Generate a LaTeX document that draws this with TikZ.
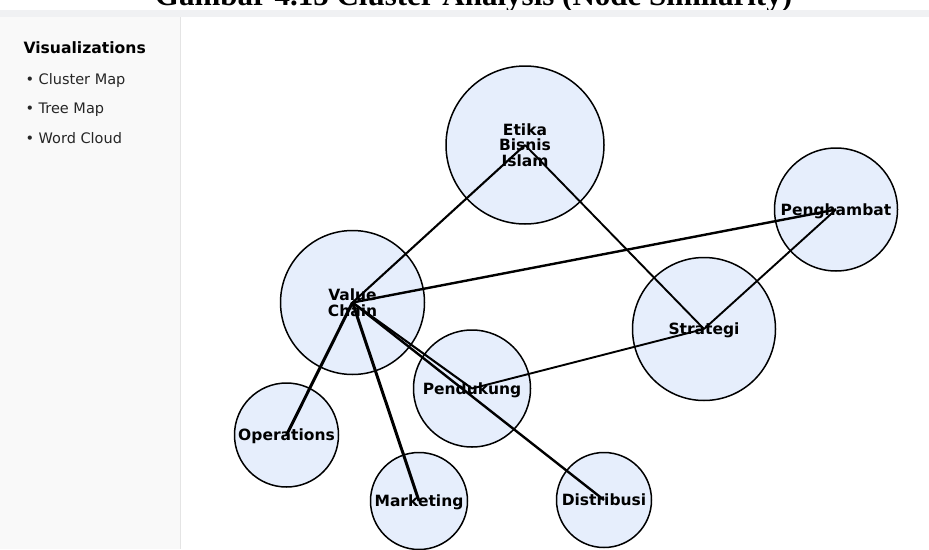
\documentclass[tikz,border=0pt]{standalone}
\usepackage{fontspec}
\setmainfont{DejaVu Sans}
\newfontfamily\judulfont{Liberation Serif}
\definecolor{isisimpul}{RGB}{230,238,252}
\definecolor{pita}{RGB}{240,241,243}
\definecolor{panel}{RGB}{249,249,249}
\definecolor{tepipanel}{RGB}{228,228,228}
\begin{document}
\begin{tikzpicture}[x=1pt, y=-1pt,
    simpul/.style={circle, draw, line width=1.5pt, fill=isisimpul, inner sep=0pt, align=center,
        text depth=0pt, font=\fontsize{15.5}{15.5}\selectfont\bfseries},
    garis/.style={line width=1.9pt},
    garis tebal/.style={line width=3pt}]
    \useasboundingbox (0,0) rectangle (929,549);
    \clip (0,0) rectangle (929,549);
    \node[anchor=base, font=\judulfont\fontsize{31}{31}\selectfont\bfseries] (judul) at (473.5,5)
        {Gambar 4.15 Cluster Analysis (Node Similarity)};
    \fill[pita] (0,10) rectangle (929,17); % pita atas
    \fill[panel] (0,17) rectangle (180,549); % panel kiri
    \draw[tepipanel] (180,17) -- (180,549);
    \node[anchor=base west, font=\fontsize{15.6}{15.6}\selectfont\bfseries] (vis) at (20,53) {Visualizations};
    \foreach \t/\y in {Cluster Map/84, Tree Map/113, Word Cloud/143}{
        \node[anchor=base west, font=\fontsize{14.5}{14.5}\selectfont, text=black!85] at (22,\y) {• \t};
    }
    % simpul-simpul
    \node[simpul, minimum size=158] (etika) at (525,145) {Etika\\Bisnis\\Islam};
    \node[simpul, minimum size=144] (vc) at (352.5,302.5) {Value\\Chain};
    \node[simpul, minimum size=123] (hambat) at (836,209.5) {Penghambat};
    \node[simpul, minimum size=143] (strategi) at (704,329) {Strategi};
    \node[simpul, minimum size=117] (dukung) at (472,388.5) {Pendukung};
    \node[simpul, minimum size=95] (distribusi) at (604,500) {Distribusi};
    \node[simpul, minimum size=97] (marketing) at (419,501) {Marketing};
    \node[simpul, minimum size=104] (operations) at (286.5,435) {Operations};
    % garis antar simpul
    \draw[garis, line width=2.1pt] (etika.center) -- (vc.center);
    \draw[garis] (etika.center) -- (strategi.center);
    \draw[garis, line width=2.4pt] (vc.center) -- (hambat.center);
    \draw[garis] (strategi.center) -- (hambat.center);
    \draw[garis] (strategi.center) -- (dukung.center);
    \draw[garis, line width=2.1pt] (vc.center) -- (dukung.center);
    \draw[garis, line width=2.4pt] (vc.center) -- (distribusi.center);
    \draw[garis tebal] (vc.center) -- (operations.center);
    \draw[garis tebal] (vc.center) -- (marketing.center);
\end{tikzpicture}
\end{document}
